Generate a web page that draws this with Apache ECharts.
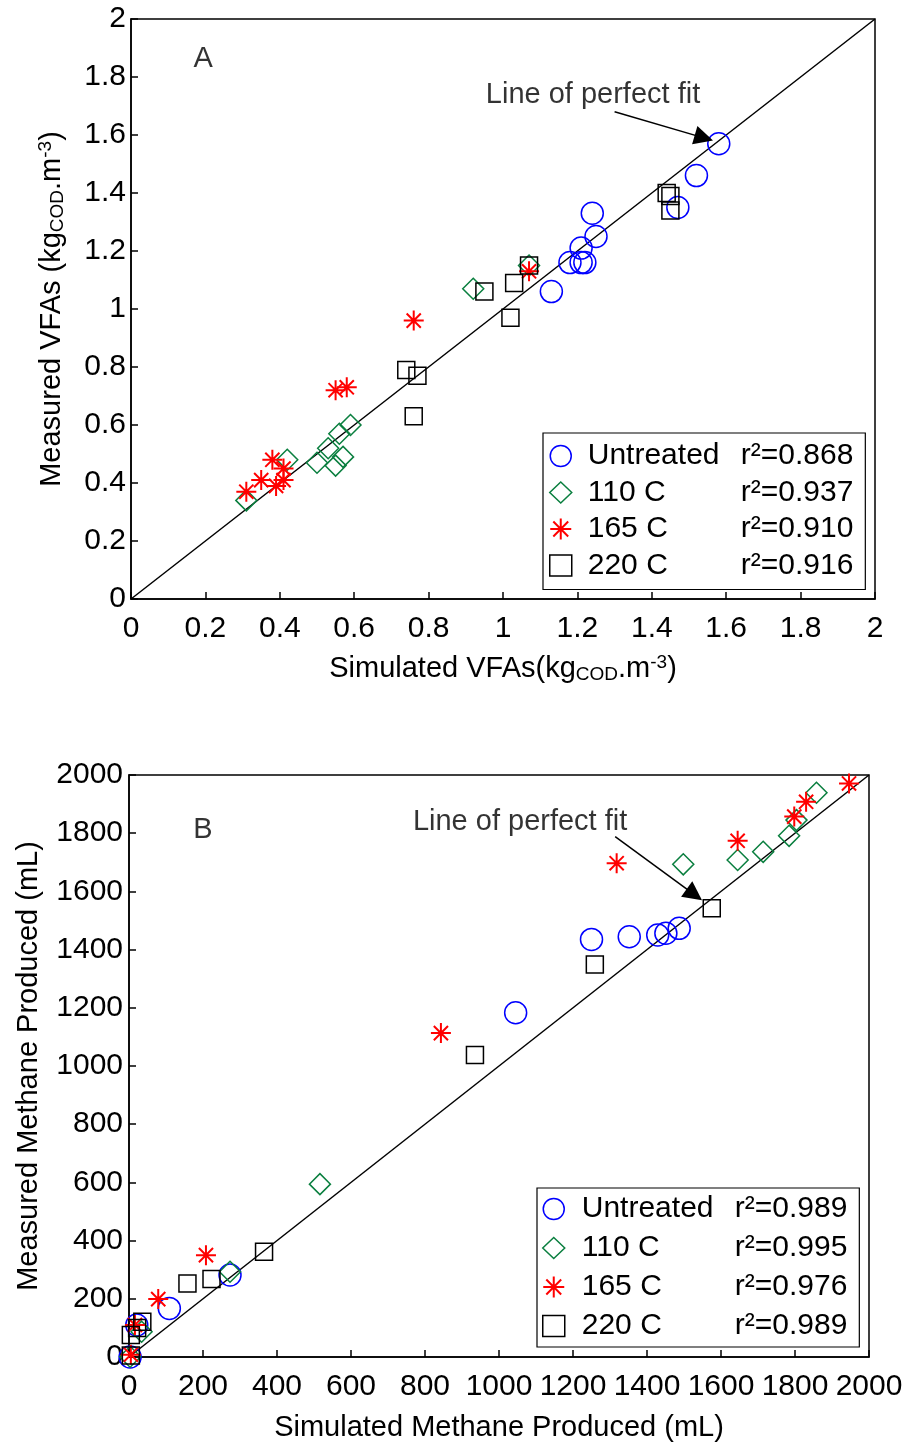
<!DOCTYPE html>
<html>
<head>
<meta charset="utf-8">
<script src="https://cdn.jsdelivr.net/npm/echarts@6/dist/echarts.min.js"></script>
<style>
html,body{margin:0;padding:0;background:#fff;}
#chart{width:907px;height:1443px;}
</style>
</head>
<body>
<div id="chart"></div>
<script>
// ---------- Data ----------
const seriesNames = ['Untreated', '110 C', '165 C', '220 C'];

// Panel A: VFAs (kgCOD.m-3)
const vfaUntreatedSim  = [1.58, 1.52, 1.47, 1.24, 1.25, 1.21, 1.18, 1.21, 1.22, 1.13];
const vfaUntreatedMeas = [1.57, 1.46, 1.35, 1.33, 1.25, 1.21, 1.16, 1.16, 1.16, 1.06];
const vfa110Sim  = [0.92, 1.07, 0.59, 0.56, 0.53, 0.50, 0.57, 0.55, 0.42, 0.31];
const vfa110Meas = [1.07, 1.15, 0.60, 0.57, 0.52, 0.47, 0.49, 0.46, 0.48, 0.34];
const vfa165Sim  = [0.76, 0.55, 0.58, 0.38, 0.41, 0.35, 0.39, 0.41, 0.31, 1.07];
const vfa165Meas = [0.96, 0.72, 0.73, 0.48, 0.45, 0.41, 0.39, 0.41, 0.37, 1.13];
const vfa220Sim  = [1.44, 1.45, 1.45, 1.07, 1.03, 0.95, 1.02, 0.74, 0.77, 0.76];
const vfa220Meas = [1.40, 1.39, 1.34, 1.15, 1.09, 1.06, 0.97, 0.79, 0.77, 0.63];
const r2A = ['0.868', '0.937', '0.910', '0.916'];

// Panel B: Methane produced (mL)
const ch4UntreatedSim  = [1487, 1451, 1429, 1352, 1250, 1045, 109, 273, 21, 3];
const ch4UntreatedMeas = [1473, 1456, 1450, 1444, 1435, 1183, 167, 282, 110, 0];
const ch4110Sim  = [1858, 1804, 1784, 1714, 1645, 1498, 516, 273, 34, 3];
const ch4110Meas = [1939, 1845, 1791, 1736, 1708, 1693, 594, 293, 87, 1];
const ch4165Sim  = [1946, 1830, 1798, 1645, 1318, 843, 208, 79, 16, 5];
const ch4165Meas = [1971, 1908, 1857, 1774, 1697, 1113, 350, 199, 110, 8];
const ch4220Sim  = [1575, 1259, 935, 365, 223, 158, 36, 22, 5, 5];
const ch4220Meas = [1542, 1349, 1038, 362, 268, 253, 121, 100, 76, 5];
const r2B = ['0.989', '0.995', '0.976', '0.989'];

// Axis ranges / ticks
const axisA = {min: 0, max: 2, interval: 0.2};
const axisB = {min: 0, max: 2000, interval: 200};

// Line of perfect fit and annotations
const fitA = [[0, 0], [2, 2]];
const fitB = [[0, 0], [2000, 2000]];
const arrowA = [[1.30, 1.68], [1.54, 1.59]];
const arrowB = [[1314, 1788], [1528, 1589]];
const annotA = [{value: [0.194, 1.862], text: 'A'}, {value: [1.242, 1.737], text: 'Line of perfect fit'}];
const annotB = [{value: [200, 1811], text: 'B'}, {value: [1057, 1838], text: 'Line of perfect fit'}];

// ---------- Styles ----------
const FONT = '"Liberation Sans", Arial, Helvetica, sans-serif';
const ASTERISK = 'path://M0,5L10,5M5,0L5,10M1.46,1.46L8.54,8.54M8.54,1.46L1.46,8.54';
const markers = [
  {symbol: 'circle', size: 22, color: '#0000ff', width: 1.5},
  {symbol: 'diamond', size: 21, color: '#0a7f3f', width: 1.5},
  {symbol: ASTERISK, size: 20, color: '#ff0000', width: 2},
  {symbol: 'rect', size: 17, color: '#000000', width: 1.5}
];

function zipPts(xs, ys) { return xs.map((x, i) => [x, ys[i]]); }

function scatterSeries(name, idx, xs, ys, axisIdx) {
  const m = markers[idx];
  return {
    type: 'scatter', name: name, xAxisIndex: axisIdx, yAxisIndex: axisIdx,
    symbol: m.symbol, symbolSize: m.size, silent: true,
    itemStyle: {color: 'rgba(0,0,0,0)', borderColor: m.color, borderWidth: m.width, opacity: 1},
    data: zipPts(xs, ys), z: 3
  };
}

function fitSeries(data, axisIdx) {
  return {type: 'line', xAxisIndex: axisIdx, yAxisIndex: axisIdx, data: data, showSymbol: false,
    symbol: 'none', silent: true, lineStyle: {color: '#000', width: 1.5}, z: 2};
}

function arrowSeries(coords, axisIdx) {
  return {type: 'lines', coordinateSystem: 'cartesian2d', xAxisIndex: axisIdx, yAxisIndex: axisIdx,
    symbol: ['none', 'triangle'], symbolSize: [14, 19], silent: true,
    lineStyle: {color: '#000', width: 1.5, opacity: 1, curveness: 0},
    itemStyle: {color: '#000'},
    data: [{coords: coords}], z: 4};
}

function annotSeries(items, axisIdx) {
  return {type: 'scatter', xAxisIndex: axisIdx, yAxisIndex: axisIdx, symbolSize: 0, silent: true,
    data: items.map(d => ({value: d.value, label: {formatter: d.text}})),
    label: {show: true, position: 'inside', color: '#000', fontSize: 29, fontFamily: FONT},
    z: 5};
}

const nameRich = {
  b: {fontSize: 29, fontFamily: FONT, color: '#000'},
  sub: {fontSize: 19, fontFamily: FONT, color: '#000', padding: [12, 0, 0, 0]},
  sup: {fontSize: 19, fontFamily: FONT, color: '#000', padding: [0, 0, 12, 0]}
};

function makeAxis(gridIndex, rng, name, nameGap, labelMargin) {
  return {
    type: 'value', gridIndex: gridIndex, min: rng.min, max: rng.max, interval: rng.interval,
    name: name, nameLocation: 'middle', nameGap: nameGap,
    nameTextStyle: {fontSize: 29, fontFamily: FONT, color: '#000', rich: nameRich},
    axisLine: {show: true, onZero: false, lineStyle: {color: '#000', width: 1.5}},
    axisTick: {show: true, inside: true, length: 7, lineStyle: {color: '#000', width: 1.5}},
    axisLabel: {fontSize: 30, fontFamily: FONT, color: '#000', margin: labelMargin,
      showMinLabel: true, showMaxLabel: true, hideOverlap: false,
      formatter: function (v) { return String(Math.round(v * 1000) / 1000); }},
    splitLine: {show: false}
  };
}

function legendFor(top, left, r2, padding, itemGap, textPadLeft, nameWidth) {
  return {
    orient: 'vertical', left: left, top: top, padding: padding, itemGap: itemGap,
    itemWidth: 22, itemHeight: 21, selectedMode: false,
    backgroundColor: '#fff', borderColor: '#000', borderWidth: 1.2,
    data: seriesNames.map((n, i) => ({
      name: n, icon: markers[i].symbol,
      itemStyle: {color: 'rgba(0,0,0,0)', borderColor: markers[i].color, borderWidth: markers[i].width}
    })),
    formatter: function (name) {
      const i = seriesNames.indexOf(name);
      return '{n|' + name + '}{r|r\u00B2=' + r2[i] + '}';
    },
    textStyle: {
      fontSize: 30, fontFamily: FONT, color: '#000',
      rich: {
        n: {fontSize: 30, fontFamily: FONT, color: '#000', width: nameWidth, padding: [0, 0, 0, textPadLeft]},
        r: {fontSize: 30, fontFamily: FONT, color: '#000'}
      }
    }
  };
}

const option = {
  backgroundColor: '#fff',
  animation: false,
  grid: [
    {left: 131, top: 19, width: 744, height: 580, show: true, borderColor: '#000', borderWidth: 1.5, backgroundColor: '#fff'},
    {left: 129, top: 775, width: 740, height: 582, show: true, borderColor: '#000', borderWidth: 1.5, backgroundColor: '#fff'}
  ],
  xAxis: [
    makeAxis(0, axisA, '{b|Simulated VFAs(kg}{sub|COD}{b|.m}{sup|-3}{b|)}', 54, 15),
    makeAxis(1, axisB, '{b|Simulated Methane Produced (mL)}', 56, 15)
  ],
  yAxis: [
    makeAxis(0, axisA, '{b|Measured VFAs (kg}{sub|COD}{b|.m}{sup|-3}{b|)}', 64, 5),
    makeAxis(1, axisB, '{b|Measured Methane Produced (mL)}', 86, 6)
  ],
  legend: [
    legendFor(433, 543, r2A, [8, 12, 9, 6], 6.5, 11, 153),
    legendFor(1188, 537, r2B, [6, 12, 6, 5], 9, 12, 153)
  ],
  series: [
    fitSeries(fitA, 0),
    scatterSeries(seriesNames[0], 0, vfaUntreatedSim, vfaUntreatedMeas, 0),
    scatterSeries(seriesNames[1], 1, vfa110Sim, vfa110Meas, 0),
    scatterSeries(seriesNames[2], 2, vfa165Sim, vfa165Meas, 0),
    scatterSeries(seriesNames[3], 3, vfa220Sim, vfa220Meas, 0),
    arrowSeries(arrowA, 0),
    annotSeries(annotA, 0),
    fitSeries(fitB, 1),
    scatterSeries(seriesNames[0], 0, ch4UntreatedSim, ch4UntreatedMeas, 1),
    scatterSeries(seriesNames[1], 1, ch4110Sim, ch4110Meas, 1),
    scatterSeries(seriesNames[2], 2, ch4165Sim, ch4165Meas, 1),
    scatterSeries(seriesNames[3], 3, ch4220Sim, ch4220Meas, 1),
    arrowSeries(arrowB, 1),
    annotSeries(annotB, 1)
  ]
};

const chart = echarts.init(document.getElementById('chart'), null, {renderer: 'canvas'});
chart.setOption(option);
</script>
</body>
</html>
